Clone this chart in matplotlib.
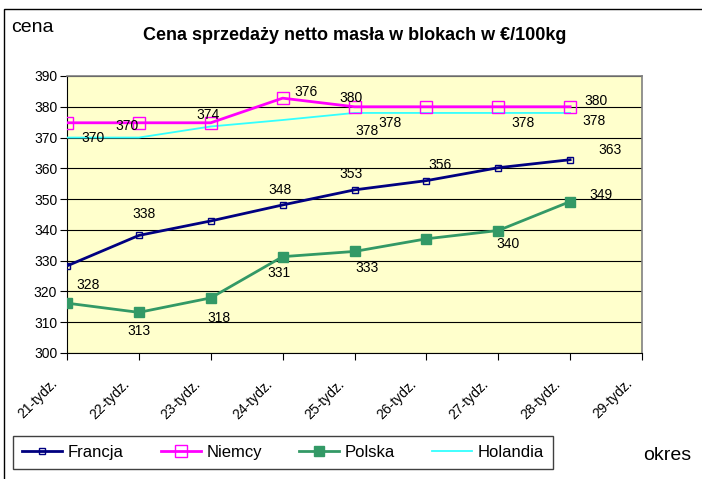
import matplotlib
matplotlib.use("Agg")
import matplotlib.pyplot as plt
from matplotlib.patches import Rectangle
from matplotlib.transforms import ScaledTranslation

plt.rcParams['font.family'] = ['Liberation Sans', 'DejaVu Sans']

weeks = ["21-tydz.", "22-tydz.", "23-tydz.", "24-tydz.", "25-tydz.",
         "26-tydz.", "27-tydz.", "28-tydz.", "29-tydz."]
francja = [328.3, 338.2, 342.9, 348.1, 353.0, 356.0, 360.2, 362.8]
niemcy = [374.8, 374.8, 374.8, 382.8, 380.0, 380.0, 380.0, 380.0]
polska = [316.2, 313.2, 317.9, 331.3, 333.0, 337.1, 339.8, 349.2]
holandia = [370.0, 370.0, 373.6, 375.7, 378.0, 378.0, 378.0, 378.0]

# data labels: (point index, label text, offset in pixels)
labels_francja = [(0, "328", 21, -19), (1, "338", 5, 21), (3, "348", -3, 15),
                  (4, "353", -3, 16), (5, "356", 14, 16), (7, "363", 40, 10)]
labels_polska = [(1, "313", 0, -19), (2, "318", 8, -20), (3, "331", -4, -16),
                 (4, "333", 13, -17), (6, "340", 10, -13), (7, "349", 31, 7)]
labels_holandia = [(0, "370", 26, 0), (1, "370", -12, 12), (2, "374", -3, 11),
                   (3, "376", 23, 28), (4, "378", 13, -18), (5, "378", -36, -10),
                   (6, "378", 25, -10), (7, "378", 24, -8)]
labels_niemcy = [(4, "380", -3, 9), (7, "380", 26, 6)]

W, H = 702, 479
fig = plt.figure(figsize=(W / 100, H / 100), dpi=100)
fig.patches.append(Rectangle((4 / W, -0.01), 1.0, 1 - 9 / H + 0.01,
                             transform=fig.transFigure, fill=False,
                             edgecolor='black', linewidth=1))

ax = fig.add_axes([67 / W, 1 - 353 / H, (642 - 67) / W, (353 - 76) / H])
ax.set_facecolor('#FFFFCC')

x = list(range(len(francja)))
ax.plot(x, holandia, color='#33FFFF', lw=1.3, label='Holandia', zorder=3)
ax.plot(x, francja, color='#000080', lw=2, marker='s', ms=4, mfc='none',
        mec='#000080', mew=1, label='Francja', zorder=4)
ax.plot(x, niemcy, color='#FF00FF', lw=2, marker='s', ms=8, mfc='none',
        mec='#FF00FF', mew=1, label='Niemcy', zorder=4)
ax.plot(x, polska, color='#339966', lw=2, marker='s', ms=7,
        label='Polska', zorder=4)

for series, labs in [(francja, labels_francja), (polska, labels_polska),
                     (holandia, labels_holandia), (niemcy, labels_niemcy)]:
    for i, txt, dx, dy in labs:
        ax.annotate(txt, (i, series[i]), xytext=(dx, dy),
                    textcoords='offset pixels', ha='center', va='center',
                    fontsize=10, zorder=6)

ax.set_xlim(0, len(weeks) - 1)
ax.set_ylim(300, 390)
ax.set_yticks(range(300, 391, 10))
ax.set_xticks(range(len(weeks)))
ax.set_xticklabels(weeks, rotation=45, ha='right', va='top', fontsize=10)
ax.tick_params(axis='x', length=5, pad=12)
ax.tick_params(axis='y', length=5, labelsize=10, pad=2)
shift = ScaledTranslation(-7 / 100, 0, fig.dpi_scale_trans)
for lab in ax.get_xticklabels():
    lab.set_transform(lab.get_transform() + shift)
ax.grid(axis='y', color='black', lw=0.8)
for s in ['top', 'right']:
    ax.spines[s].set_color('#808080')
    ax.spines[s].set_linewidth(1.2)

fig.text(11 / W, 1 - 32 / H, "cena", fontsize=14, va='baseline')
fig.text(355 / W, 1 - 40 / H, "Cena sprzedaży netto masła w blokach w €/100kg",
         fontsize=13, fontweight='bold', ha='center', va='baseline')
fig.text(643 / W, 1 - 460 / H, "okres", fontsize=14, va='baseline')

h, l = ax.get_legend_handles_labels()
order = [1, 2, 3, 0]
leg = fig.legend([h[k] for k in order], [l[k] for k in order], ncol=4,
                 loc='lower left', bbox_to_anchor=(13 / W, 10 / H, 540 / W, 33 / H),
                 mode='expand', fancybox=False, edgecolor='#404040',
                 fontsize=12, handlelength=2.4, handletextpad=0.35,
                 borderaxespad=0, borderpad=0.55, framealpha=1)
leg.get_frame().set_linewidth(1)

fig.savefig("out.png", dpi=100)
